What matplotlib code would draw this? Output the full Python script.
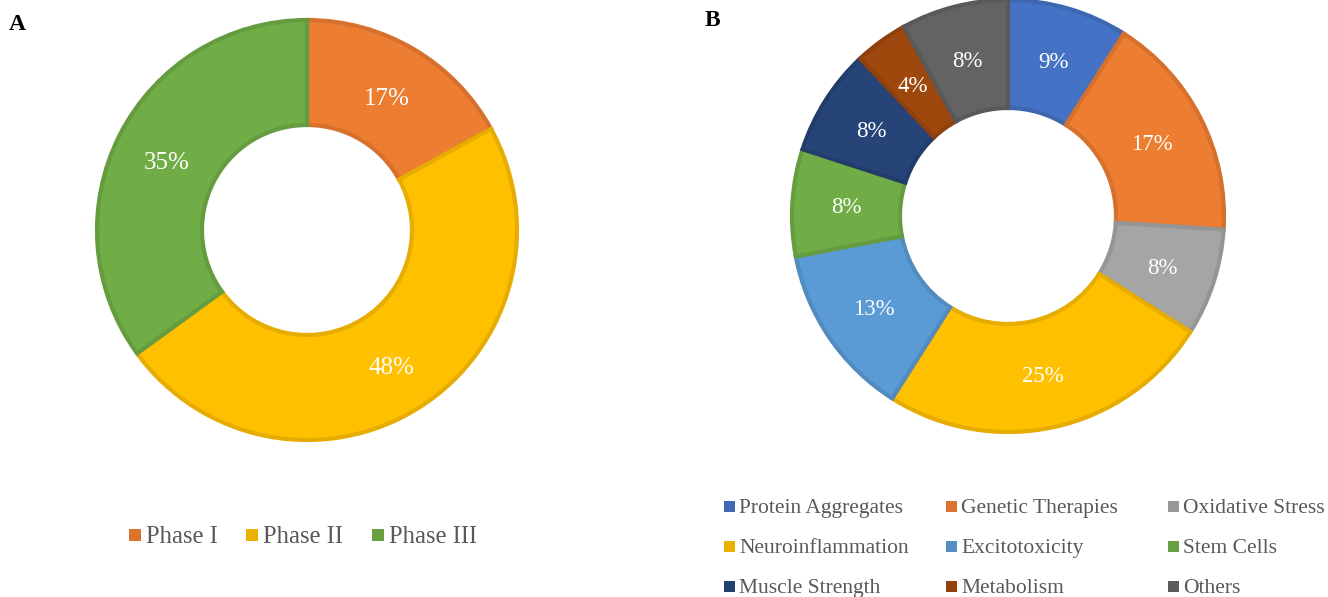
import matplotlib.pyplot as plt
from matplotlib.patches import Rectangle
import matplotlib.colors as mcolors

plt.rcParams['font.family'] = ['Liberation Serif', 'DejaVu Serif']

# Panel A: trials by phase
phase_labels = ["Phase I", "Phase II", "Phase III"]
phase_values = [17, 48, 35]
phase_colors = ["#ED7D31", "#FFC000", "#70AD47"]

# Panel B: trials by therapeutic target
target_labels = ["Protein Aggregates", "Genetic Therapies", "Oxidative Stress",
                 "Neuroinflammation", "Excitotoxicity", "Stem Cells",
                 "Muscle Strength", "Metabolism", "Others"]
target_values = [9, 17, 8, 25, 13, 8, 8, 4, 8]
target_colors = ["#4472C4", "#ED7D31", "#A5A5A5", "#FFC000", "#5B9BD5",
                 "#70AD47", "#264478", "#9E480E", "#636363"]

W, H = 1328, 597
fig = plt.figure(figsize=(W / 100, H / 100), dpi=100)
ax = fig.add_axes([0, 0, 1, 1])


def darker(c, f=0.9):
    r, g, b = mcolors.to_rgb(c)
    return (r * f, g * f, b * f)


def donut(values, colors, center, radius, fs, label_drop):
    wedges, _, autotexts = ax.pie(
        values, colors=colors, startangle=90, counterclock=False,
        center=center, radius=radius,
        autopct=lambda p: f"{p:.0f}%", pctdistance=0.75,
        wedgeprops=dict(width=radius * 0.5, linewidth=3.0),
        textprops=dict(color="white", fontsize=fs),
        frame=True)
    for w, c in zip(wedges, colors):
        w.set_edgecolor(darker(c))
    # percentage labels sit a little below the ring's mid-line
    for t in autotexts:
        x, y = t.get_position()
        t.set_position((x, y - label_drop))
    return wedges


donut(phase_values, phase_colors, (307, H - 230), 210, 18, 5)
donut(target_values, target_colors, (1008, H - 216), 216, 16.5, 2)
ax.set_xlim(0, W)
ax.set_ylim(0, H)
ax.set_aspect('equal')
ax.axis('off')

# Panel letters
fig.text(9 / W, 1 - 24 / H, "A", fontsize=17, fontweight='bold', va='center')
fig.text(705 / W, 1 - 20 / H, "B", fontsize=17, fontweight='bold', va='center')


def legend_entry(x, y, label, color, fs, sq, gap):
    ax.add_patch(Rectangle((x, H - y - sq / 2), sq, sq,
                           facecolor=darker(color, 0.92), edgecolor='none'))
    cap = fs * 100 / 72 * 0.66
    ax.text(x + sq + gap, H - y - cap / 2, label, fontsize=fs,
            color="#595959", va='baseline', ha='left')


# Legend for panel A
for x, lab, col in zip([129, 246, 372], phase_labels, phase_colors):
    legend_entry(x, 535, lab, col, 17.7, 12, 5)

# Legend for panel B (3 columns)
cols_x = [724, 946, 1168]
rows_y = [506, 546, 586]
for i, (lab, col) in enumerate(zip(target_labels, target_colors)):
    legend_entry(cols_x[i % 3], rows_y[i // 3], lab, col, 15.5, 11, 4)

fig.savefig("out.png", dpi=100)
